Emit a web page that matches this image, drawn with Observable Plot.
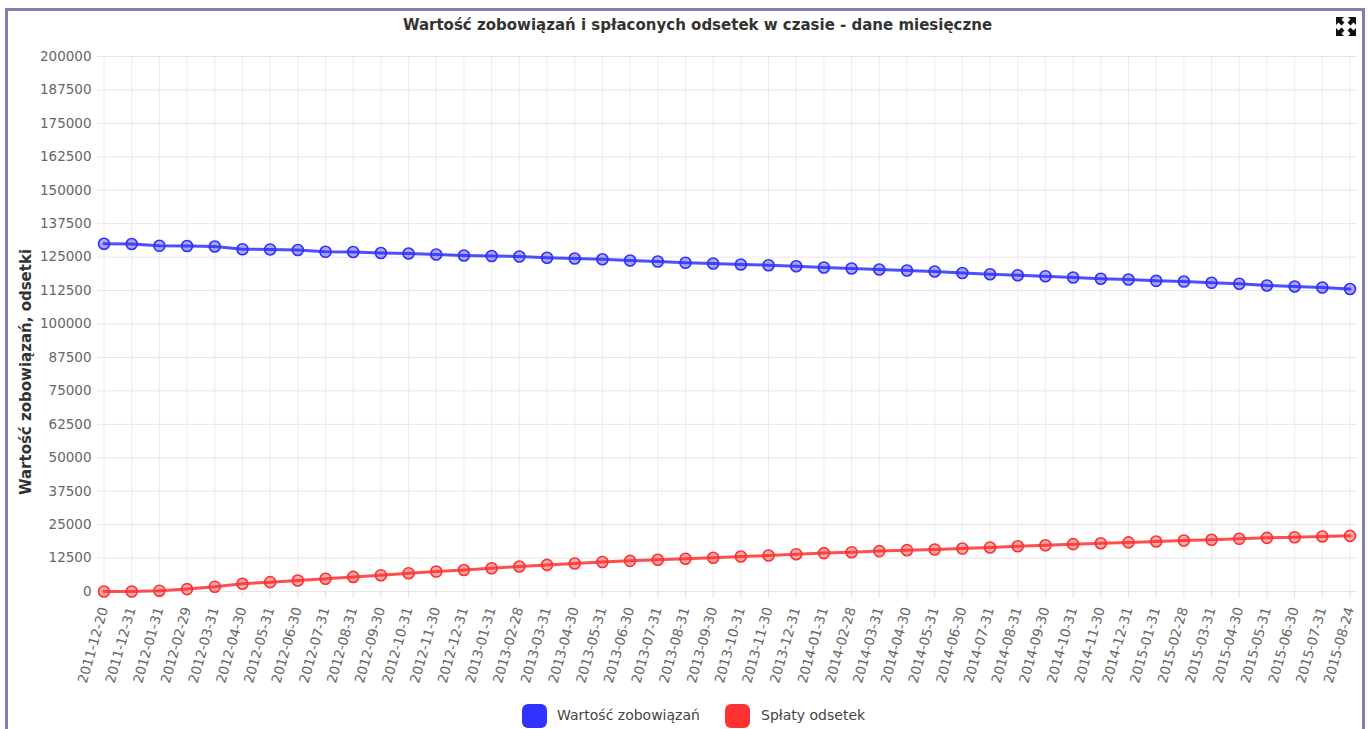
<!DOCTYPE html>
<html><head><meta charset="utf-8">
<script src="https://cdn.jsdelivr.net/npm/d3@7"></script>
<script src="https://cdn.jsdelivr.net/npm/@observablehq/plot@0.6"></script>
<style>
body{margin:0;background:#fff;width:1368px;height:729px;overflow:hidden;position:relative;font-family:"DejaVu Sans",Verdana,sans-serif;}
#frame{position:absolute;left:5px;top:8px;width:1360px;height:740px;border:3px solid #8080a8;box-sizing:border-box;}
#title{position:absolute;left:0;width:1395px;top:16px;text-align:center;font-weight:bold;font-size:15px;color:#333;}
#ylabel{position:absolute;left:26px;top:372px;transform:translate(-50%,-50%) rotate(-90deg);white-space:nowrap;font-weight:bold;font-size:15px;color:#333;}
#chart{position:absolute;left:0;top:0;}
#icon{position:absolute;left:1336px;top:17px;}
.sw{position:absolute;width:25px;height:24px;border-radius:6px;top:704px;}
.lt{position:absolute;top:707px;font-size:14px;color:#444;}
[aria-label="x-axis tick"]{stroke:#e3e3e3;}
</style></head>
<body>
<div id="frame"></div>
<div id="title">Wartość zobowiązań i spłaconych odsetek w czasie - dane miesięczne</div>
<div id="ylabel">Wartość zobowiązań, odsetki</div>
<svg id="icon" width="20" height="19" viewBox="0 0 20 19">
<g fill="#111">
<polygon points="0,0 8,0 5.5,2.5 8.5,5.5 5.5,8.5 2.5,5.5 0,8"/>
<polygon points="20,0 12,0 14.5,2.5 11.5,5.5 14.5,8.5 17.5,5.5 20,8"/>
<polygon points="0,19 8,19 5.5,16.5 8.5,13.5 5.5,10.5 2.5,13.5 0,11"/>
<polygon points="20,19 12,19 14.5,16.5 11.5,13.5 14.5,10.5 17.5,13.5 20,11"/>
</g></svg>
<div id="chart"></div>
<div class="sw" style="left:522px;background:#3333ff"></div>
<div class="lt" style="left:557px">Wartość zobowiązań</div>
<div class="sw" style="left:725px;background:#ff3333"></div>
<div class="lt" style="left:761px">Spłaty odsetek</div>
<script>
const dates = ["2011-12-20","2011-12-31","2012-01-31","2012-02-29","2012-03-31","2012-04-30","2012-05-31","2012-06-30","2012-07-31","2012-08-31","2012-09-30","2012-10-31","2012-11-30","2012-12-31","2013-01-31","2013-02-28","2013-03-31","2013-04-30","2013-05-31","2013-06-30","2013-07-31","2013-08-31","2013-09-30","2013-10-31","2013-11-30","2013-12-31","2014-01-31","2014-02-28","2014-03-31","2014-04-30","2014-05-31","2014-06-30","2014-07-31","2014-08-31","2014-09-30","2014-10-31","2014-11-30","2014-12-31","2015-01-31","2015-02-28","2015-03-31","2015-04-30","2015-05-31","2015-06-30","2015-07-31","2015-08-24"];
const wartoscZobowiazan = [130000,129900,129230,129160,128970,127960,127850,127660,126990,126910,126540,126350,125980,125610,125420,125230,124750,124480,124220,123730,123360,122880,122610,122240,121980,121600,121120,120750,120370,120000,119630,119060,118610,118240,117870,117380,116900,116630,116140,115890,115400,115030,114390,114020,113650,113080];
const splatyOdsetek = [0,0,300,900,1800,2900,3500,4100,4750,5450,6100,6850,7450,8050,8700,9350,9950,10450,11050,11450,11850,12250,12600,13100,13450,13950,14350,14700,15100,15450,15700,16050,16450,16900,17300,17700,18050,18350,18700,19050,19350,19700,20050,20300,20550,20800];
const seriesNames = ["Wartość zobowiązań","Spłaty odsetek"];
const seriesColors = ["#2f2fff","#ff2f2f"];
const yTicks = d3.range(0, 200001, 12500);

const data = [];
dates.forEach((d,i)=>data.push({date:d, value:wartoscZobowiazan[i], series:seriesNames[0]}));
dates.forEach((d,i)=>data.push({date:d, value:splatyOdsetek[i], series:seriesNames[1]}));

const chart = Plot.plot({
  width:1368, height:700,
  marginLeft:97, marginRight:11, marginTop:56, marginBottom:109,
  style:{fontFamily:"'DejaVu Sans', Verdana, sans-serif", fontSize:"13.5px", color:"#666", background:"transparent", overflow:"visible"},
  x:{type:"point", domain:dates, padding:0, insetLeft:6.5, insetRight:7.5},
  y:{domain:[0,200000]},
  color:{domain:seriesNames, range:seriesColors},
  marks:[
    Plot.gridY(yTicks, {stroke:"#e6e6e6", strokeOpacity:1}),
    Plot.gridX(dates, {stroke:"#ececec", strokeOpacity:1}),
    Plot.axisY({ticks:yTicks, tickFormat:d=>String(d), tickSize:0, tickPadding:6, label:null}),
    Plot.axisX({ticks:dates, tickRotate:-74, tickSize:7, tickPadding:9, label:null}),
    Plot.line(data, {x:"date", y:"value", z:"series", stroke:"series", strokeWidth:3, strokeOpacity:0.85}),
    Plot.dot(data, {x:"date", y:"value", r:5.5, fill:"series", fillOpacity:0.4, stroke:"series", strokeWidth:1.6})
  ]
});
document.getElementById("chart").appendChild(chart);
</script>
</body></html>
